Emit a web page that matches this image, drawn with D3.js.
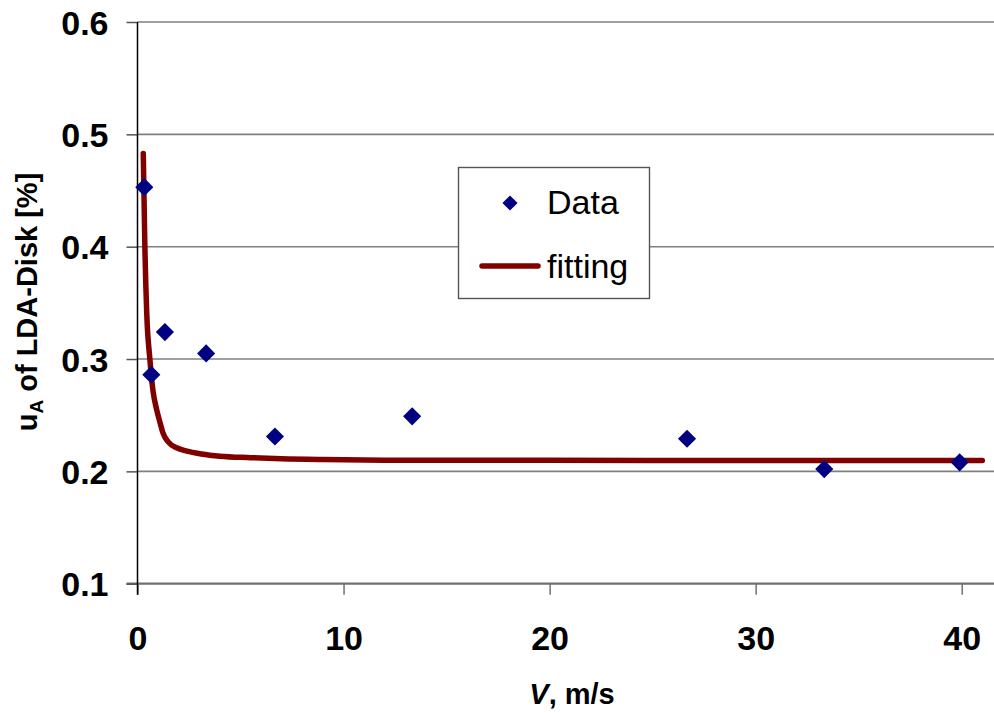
<!DOCTYPE html>
<html>
<head>
<meta charset="utf-8">
<script src="https://cdn.jsdelivr.net/npm/d3@7"></script>
<style>
  body { margin: 0; background: #fff; }
  svg { display: block; }
  text { font-family: "Liberation Sans", Arial, sans-serif; }
</style>
</head>
<body>
<svg id="chart" width="994" height="713"></svg>
<script>
// ---- data ----
const dataV = [0.33, 0.67, 1.33, 3.33, 6.67, 13.33, 26.67, 33.33, 39.9];
const dataU = [0.453, 0.286, 0.324, 0.305, 0.231, 0.249, 0.229, 0.202, 0.208];

const fitV = [0.28, 0.36, 0.45, 0.6, 0.75, 0.93, 1.1, 1.24, 1.5, 1.9, 2.4, 3.1, 4, 5.5, 7, 9, 12, 20, 30, 41];
const fitU = [0.483, 0.398, 0.34, 0.30, 0.272, 0.255, 0.243, 0.234, 0.226, 0.221, 0.218, 0.2155, 0.2135, 0.2122, 0.2112, 0.2105, 0.2100, 0.2098, 0.2097, 0.2097];

const xTicks = [0, 10, 20, 30, 40];
const yTicks = [0.1, 0.2, 0.3, 0.4, 0.5, 0.6];
const legendLabels = ["Data", "fitting"];

// ---- layout ----
const svg = d3.select("#chart");
const x = d3.scaleLinear().domain([0, 40]).range([137.5, 961.7]);
const y = d3.scaleLinear().domain([0.1, 0.6]).range([583.7, 22]);
const plotRight = 994;

// gridlines
svg.append("g").selectAll("line")
  .data(yTicks.filter(d => d > 0.1))
  .join("line")
  .attr("x1", x(0)).attr("x2", plotRight)
  .attr("y1", d => y(d)).attr("y2", d => y(d))
  .attr("stroke", "#808080").attr("stroke-width", 1.6);

// x axis
const xAxis = d3.axisBottom(x).tickValues(xTicks).tickSize(11).tickFormat(d3.format("d"));
const gx = svg.append("g").attr("transform", `translate(0,${y(0.1)})`).call(xAxis);
gx.select(".domain").remove();
gx.append("line").attr("x1", x(0) - 11).attr("x2", plotRight).attr("y1", 0).attr("y2", 0)
  .attr("stroke", "#707070").attr("stroke-width", 2.2);
gx.selectAll(".tick line").attr("stroke", "#707070").attr("stroke-width", 1.5);
gx.selectAll(".tick text")
  .attr("y", 66).attr("dy", 0)
  .attr("fill", "#000").attr("font-size", 34).attr("font-weight", "bold")
  .attr("font-family", "Liberation Sans, Arial, sans-serif");

// y axis
const yAxis = d3.axisLeft(y).tickValues(yTicks).tickSize(11).tickFormat(d3.format(".1f"));
const gy = svg.append("g").attr("transform", `translate(${x(0)},0)`).call(yAxis);
gy.select(".domain").remove();
gy.append("line").attr("x1", 0).attr("x2", 0).attr("y1", y(0.6)).attr("y2", y(0.1) + 11)
  .attr("stroke", "#000").attr("stroke-width", 1.5);
gy.selectAll(".tick line").attr("stroke", "#555").attr("stroke-width", 1.5);
gy.selectAll(".tick text")
  .attr("x", -29).attr("dy", "0.36em")
  .attr("fill", "#000").attr("font-size", 34).attr("font-weight", "bold")
  .attr("font-family", "Liberation Sans, Arial, sans-serif");

// axis titles
const xt = svg.append("text")
  .attr("x", 572).attr("y", 704)
  .attr("text-anchor", "middle")
  .attr("font-size", 29).attr("font-weight", "bold");
xt.append("tspan").attr("font-style", "italic").text("V");
xt.append("tspan").text(", m/s");

const yt = svg.append("text")
  .attr("transform", "translate(37,302) rotate(-90)")
  .attr("text-anchor", "middle")
  .attr("font-size", 29).attr("font-weight", "bold");
yt.append("tspan").text("u");
yt.append("tspan").attr("font-size", 19).attr("dy", 6).text("A");
yt.append("tspan").attr("dy", -6).text(" of LDA-Disk [%]");

// fitting curve
const fitData = fitV.map((v, i) => ({ v, u: fitU[i] }));
const line = d3.line().x(d => x(d.v)).y(d => y(d.u)).curve(d3.curveMonotoneX);
svg.append("path")
  .datum(fitData)
  .attr("d", line)
  .attr("fill", "none")
  .attr("stroke", "#800000")
  .attr("stroke-width", 5.5)
  .attr("stroke-linecap", "round")
  .attr("stroke-linejoin", "round");

// data points
const diamond = d3.symbol().type(d3.symbolSquare).size(165);
const pts = dataV.map((v, i) => ({ v, u: dataU[i] }));
svg.append("g").selectAll("path")
  .data(pts)
  .join("path")
  .attr("d", diamond)
  .attr("transform", d => `translate(${x(d.v)},${y(d.u)}) rotate(45)`)
  .attr("fill", "#000080");

// legend
const lg = svg.append("g");
lg.append("rect").attr("x", 458.5).attr("y", 167.5).attr("width", 191).attr("height", 131)
  .attr("fill", "#fff").attr("stroke", "#555").attr("stroke-width", 1.4);
lg.append("path").attr("d", d3.symbol().type(d3.symbolSquare).size(115))
  .attr("transform", "translate(510,203) rotate(45)").attr("fill", "#000080");
lg.append("line").attr("x1", 482).attr("x2", 538).attr("y1", 266).attr("y2", 266)
  .attr("stroke", "#800000").attr("stroke-width", 5.5).attr("stroke-linecap", "round");
lg.selectAll("text.lbl").data(legendLabels).join("text")
  .attr("class", "lbl")
  .attr("x", 547).attr("y", (d, i) => i === 0 ? 214 : 278)
  .attr("font-size", 34).attr("fill", "#000")
  .text(d => d);
</script>
</body>
</html>
